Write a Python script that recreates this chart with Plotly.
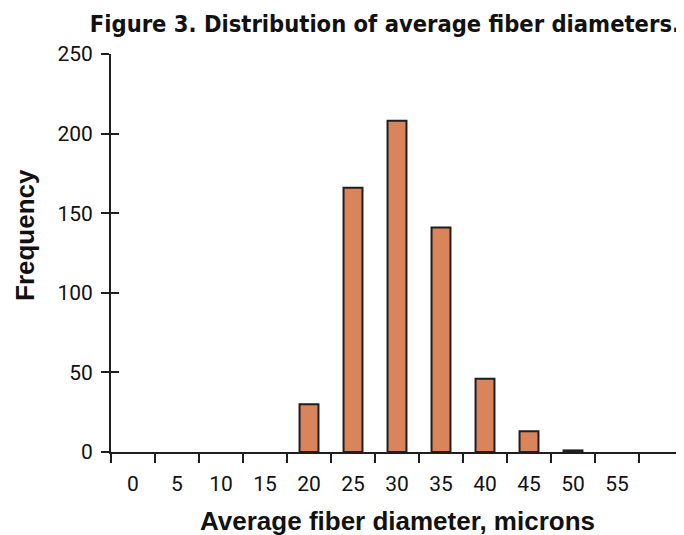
import plotly.graph_objects as go

categories = ["0", "5", "10", "15", "20", "25", "30", "35", "40", "45", "50", "55"]
frequency = [0, 0, 0, 0, 30, 166, 208, 141, 46, 13, 1, 0]
axis_categories = categories + [" "]
y_ticks = [0, 50, 100, 150, 200, 250]

bar_color = "#D9845A"
ink = "#1e1e1e"

W, H = 676, 527  # page body has 8px margin in the 684x535 window

fig = go.Figure()
fig.add_trace(go.Bar(
    x=categories, y=frequency, width=0.43,
    marker=dict(color=bar_color,
                line=dict(color=ink, width=[2 if v > 0 else 0 for v in frequency])),
    showlegend=False,
))
# invisible trace to attach the inner tick marks axis
fig.add_trace(go.Scatter(x=[categories[0]], y=[0], yaxis="y2", mode="markers",
                         marker=dict(opacity=0), showlegend=False, hoverinfo="skip"))

fig.update_layout(
    width=W, height=H,
    margin=dict(l=103, r=1, t=46, b=83, autoexpand=False),
    paper_bgcolor="white", plot_bgcolor="white",
    font=dict(family="Roboto", size=21, color="#111"),
    title=dict(text="<b>Figure 3. Distribution of average fiber diameters.</b>",
               x=1 - 4 / W, xanchor="right", xref="container",
               y=1 - 16 / H, yanchor="middle", yref="container",
               font=dict(family="DejaVu Sans Condensed, Roboto", size=23.5, color="#111")),
    xaxis=dict(type="category", categoryorder="array", categoryarray=axis_categories,
               range=[-0.5, 12.5], tickson="boundaries", ticks="outside", ticklen=9,
               tickwidth=2, tickcolor=ink, showline=True, linecolor=ink, linewidth=2,
               showgrid=False, zeroline=False, ticklabelstandoff=12, automargin=False),
    yaxis=dict(range=[0, 250], tickvals=y_ticks, ticks="outside", ticklen=8,
               tickwidth=2, tickcolor=ink, showline=True, linecolor=ink, linewidth=2,
               showgrid=False, zeroline=False, ticklabelstandoff=4, automargin=False),
    yaxis2=dict(range=[0, 250], tickvals=y_ticks, ticks="inside", ticklen=8,
                tickwidth=2, tickcolor=ink, overlaying="y", side="left",
                showticklabels=False, showgrid=False, zeroline=False, showline=False,
                automargin=False),
    annotations=[
        dict(text="<b>Average fiber diameter, microns</b>", xref="paper", yref="paper",
             x=(397 - 111) / 572, y=-(521 - 452) / 398, xanchor="center", yanchor="middle",
             showarrow=False, font=dict(family="Liberation Sans", size=26, color="#111")),
        dict(text="<b>Frequency</b>", xref="paper", yref="paper", textangle=-90,
             x=-(111 - 25) / 572, y=(452 - 235) / 398, xanchor="center", yanchor="middle",
             showarrow=False, font=dict(family="Liberation Sans", size=26, color="#111")),
    ],
)

fig.write_html("out.html")
